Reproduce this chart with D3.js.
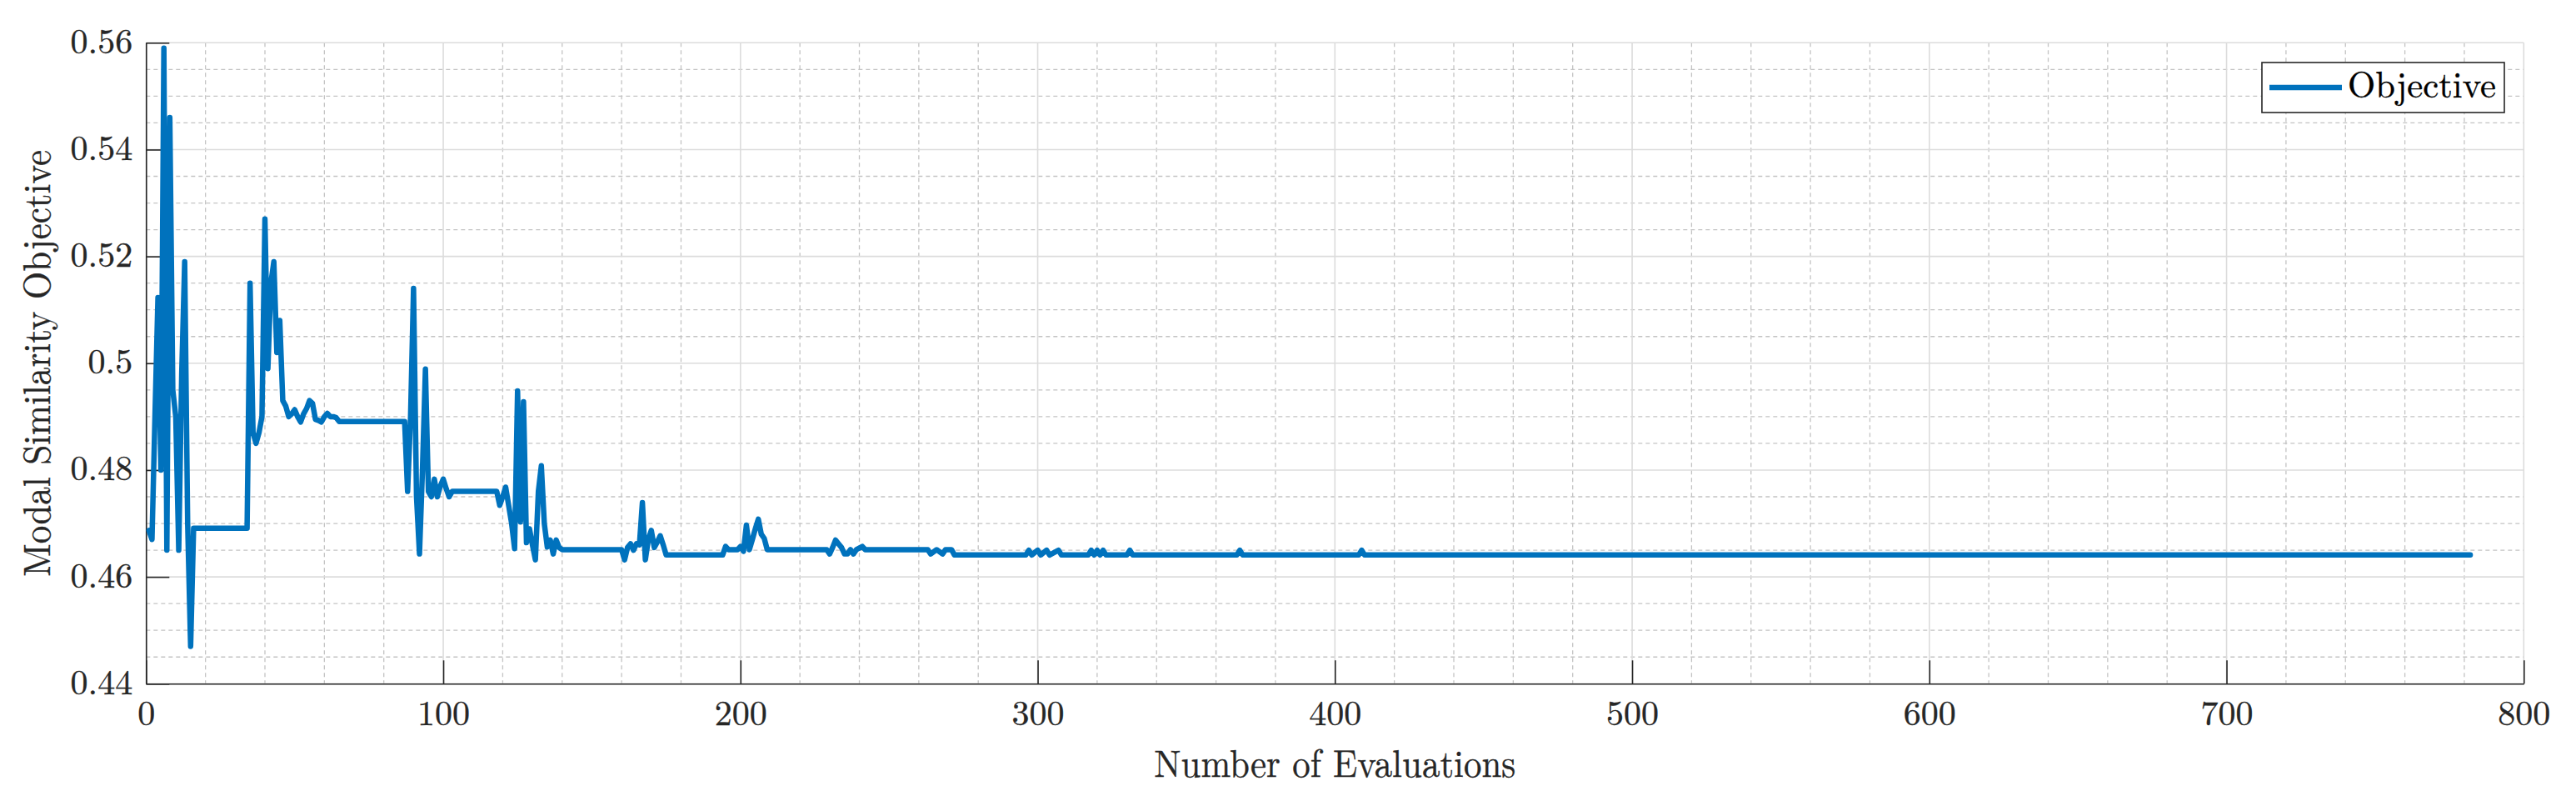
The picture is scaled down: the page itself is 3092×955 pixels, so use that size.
<!DOCTYPE html>
<html>
<head>
<meta charset="utf-8">
<script src="https://cdn.jsdelivr.net/npm/d3@7"></script>
<style>
  html, body { margin: 0; padding: 0; background: #ffffff; }
  svg { display: block; }
</style>
</head>
<body>
<svg id="chart" width="3092" height="955"></svg>
<script>
// ---- data ----
const evalIdx = [
  1,2,3,4,5,6,7,8,9,10,11,12,13,14,15,16,
  34,35,36,37,38,39,40,41,42,43,44,45,46,47,48,49,50,51,52,53,54,55,56,57,58,59,60,61,62,63,64,65,
  87,88,89,90,91,92,93,94,95,96,97,98,99,100,101,102,103,
  118,119,120,121,122,123,124,125,126,127,128,129,130,131,132,133,134,135,136,137,138,139,140,
  160,161,162,163,164,165,166,167,168,169,170,171,172,173,174,175,
  194,195,196,199,200,201,202,203,204,205,206,207,208,209,
  229,230,231,232,233,234,235,236,237,238,239,241,242,
  263,264,266,268,269,271,272,
  296,297,298,300,301,303,304,307,308,
  317,318,319,320,321,322,323,330,331,332,
  367,368,369,
  408,409,410,
  782
];
const objective = [
  0.4687,0.4670,0.4900,0.5123,0.4800,0.5590,0.4650,0.5460,0.4950,0.4900,0.4650,0.4980,0.5190,0.4700,0.4470,0.4691,
  0.4691,0.5150,0.4870,0.4850,0.4870,0.4900,0.5270,0.4990,0.5150,0.5190,0.5020,0.5080,0.4930,0.4920,0.4900,0.4905,0.4913,0.4900,0.4890,0.4905,0.4915,0.4930,0.4925,0.4895,0.4893,0.4890,0.4900,0.4906,0.4900,0.4900,0.4898,0.4891,
  0.4891,0.4760,0.4900,0.5140,0.4750,0.4643,0.4800,0.4989,0.4760,0.4750,0.4783,0.4750,0.4770,0.4783,0.4765,0.4750,0.4760,
  0.4760,0.4734,0.4750,0.4768,0.4734,0.4700,0.4653,0.4948,0.4703,0.4928,0.4664,0.4690,0.4660,0.4632,0.4760,0.4808,0.4700,0.4656,0.4669,0.4643,0.4669,0.4655,0.4651,
  0.4651,0.4632,0.4655,0.4662,0.4650,0.4662,0.4660,0.4739,0.4632,0.4670,0.4687,0.4655,0.4665,0.4677,0.4660,0.4641,
  0.4641,0.4657,0.4651,0.4651,0.4657,0.4648,0.4697,0.4651,0.4670,0.4690,0.4708,0.4680,0.4672,0.4651,
  0.4651,0.4643,0.4655,0.4669,0.4662,0.4655,0.4643,0.4643,0.4651,0.4643,0.4651,0.4657,0.4651,
  0.4651,0.4643,0.4651,0.4643,0.4651,0.4651,0.4641,
  0.4641,0.4650,0.4641,0.4650,0.4641,0.4650,0.4641,0.4650,0.4641,
  0.4641,0.4650,0.4641,0.4650,0.4641,0.4650,0.4641,0.4641,0.4650,0.4641,
  0.4641,0.4650,0.4641,
  0.4641,0.4650,0.4641,
  0.4641
];
const xTicks = [0,100,200,300,400,500,600,700,800];
const yTicks = [0.44,0.46,0.48,0.50,0.52,0.54,0.56];
const yTickLabels = ["0.44","0.46","0.48","0.5","0.52","0.54","0.56"];
const xMinor = d3.range(0, 801, 20);
const yMinor = d3.range(0, 25).map(i => +(0.44 + i*0.005).toFixed(3));
const seriesName = "Objective";
const xLabel = "Number of Evaluations";
const yLabel = "Modal Similarity Objective";

// ---- layout ----
const L = 175.3, R = 3029.3, T = 51.3, B = 820.3;
const svg = d3.select("#chart");
const font = "'Latin Modern Roman','CMU Serif','Liberation Serif','Times New Roman',serif";
const axisColor = "#262626";
const lineColor = "#0072BD";

const x = d3.scaleLinear().domain([0, 800]).range([L, R]);
const y = d3.scaleLinear().domain([0.44, 0.56]).range([B, T]);

svg.append("rect").attr("width", 3092).attr("height", 955).attr("fill", "#fff");

// minor grid (dashed)
const g = svg.append("g");
g.selectAll("line.mx").data(xMinor.filter(v => v % 100 !== 0)).join("line")
  .attr("x1", d => x(d)).attr("x2", d => x(d)).attr("y1", T).attr("y2", B)
  .attr("stroke", "#c4c4c4").attr("stroke-width", 1.3).attr("stroke-dasharray", "5,4");
g.selectAll("line.my").data(yMinor.filter(v => Math.abs((v*100) % 2) > 1e-6 && Math.abs((v*100) % 2 - 2) > 1e-6)).join("line")
  .attr("x1", L).attr("x2", R).attr("y1", d => y(d)).attr("y2", d => y(d))
  .attr("stroke", "#c4c4c4").attr("stroke-width", 1.3).attr("stroke-dasharray", "5,4");

// major grid (solid)
g.selectAll("line.gx").data(xTicks).join("line")
  .attr("x1", d => x(d)).attr("x2", d => x(d)).attr("y1", T).attr("y2", B)
  .attr("stroke", "#dcdcdc").attr("stroke-width", 1.6);
g.selectAll("line.gy").data(yTicks).join("line")
  .attr("x1", L).attr("x2", R).attr("y1", d => y(d)).attr("y2", d => y(d))
  .attr("stroke", "#dcdcdc").attr("stroke-width", 1.6);

// axes (left & bottom, inward ticks)
const xAxis = d3.axisBottom(x).tickValues(xTicks).tickSizeInner(-28).tickSizeOuter(0).tickPadding(22)
  .tickFormat(d3.format("d"));
const yAxis = d3.axisLeft(y).tickValues(yTicks).tickSizeInner(-28).tickSizeOuter(0).tickPadding(44)
  .tickFormat((d, i) => yTickLabels[i]);

const gx = svg.append("g").attr("transform", `translate(0,${B})`).call(xAxis);
const gy = svg.append("g").attr("transform", `translate(${L},0)`).call(yAxis);
[gx, gy].forEach(a => {
  a.select(".domain").attr("stroke", axisColor).attr("stroke-width", 1.6);
  a.selectAll(".tick line").attr("stroke", axisColor).attr("stroke-width", 1.6);
  a.selectAll(".tick text").attr("fill", axisColor).attr("stroke", axisColor).attr("stroke-width", 0.35)
    .style("font-family", font).style("font-size", "42px");
});
gx.selectAll(".tick text").attr("dy", null).attr("y", 50);
gy.selectAll(".tick text").attr("dy", null).attr("y", 12).attr("x", -16);

// data line
const line = d3.line().x((d, i) => x(evalIdx[i])).y(d => y(d));
svg.append("path").datum(objective)
  .attr("d", line).attr("fill", "none").attr("stroke", lineColor)
  .attr("stroke-width", 6.5).attr("stroke-linejoin", "round").attr("stroke-linecap", "round");

// axis labels
svg.append("text").attr("x", (L + R) / 2).attr("y", 932).attr("text-anchor", "middle")
  .attr("textLength", 434).attr("lengthAdjust", "spacingAndGlyphs")
  .attr("fill", axisColor).attr("stroke", axisColor).attr("stroke-width", 0.35)
  .style("font-family", font).style("font-size", "46px").text(xLabel);
svg.append("text").attr("transform", `translate(60,${(T + B) / 2}) rotate(-90)`).attr("text-anchor", "middle")
  .attr("textLength", 512).attr("lengthAdjust", "spacingAndGlyphs")
  .attr("fill", axisColor).attr("stroke", axisColor).attr("stroke-width", 0.35)
  .style("font-family", font).style("font-size", "46px").text(yLabel);

// legend
const lg = svg.append("g");
lg.append("rect").attr("x", 2715).attr("y", 75).attr("width", 291).attr("height", 60)
  .attr("fill", "#fff").attr("stroke", axisColor).attr("stroke-width", 1.6);
lg.append("line").attr("x1", 2724).attr("x2", 2811).attr("y1", 105).attr("y2", 105)
  .attr("stroke", lineColor).attr("stroke-width", 6.5);
lg.append("text").attr("x", 2818).attr("y", 117).attr("fill", "#000").attr("stroke", "#000").attr("stroke-width", 0.35)
  .attr("textLength", 178).attr("lengthAdjust", "spacingAndGlyphs")
  .style("font-family", font).style("font-size", "45px").text(seriesName);
</script>
</body>
</html>
